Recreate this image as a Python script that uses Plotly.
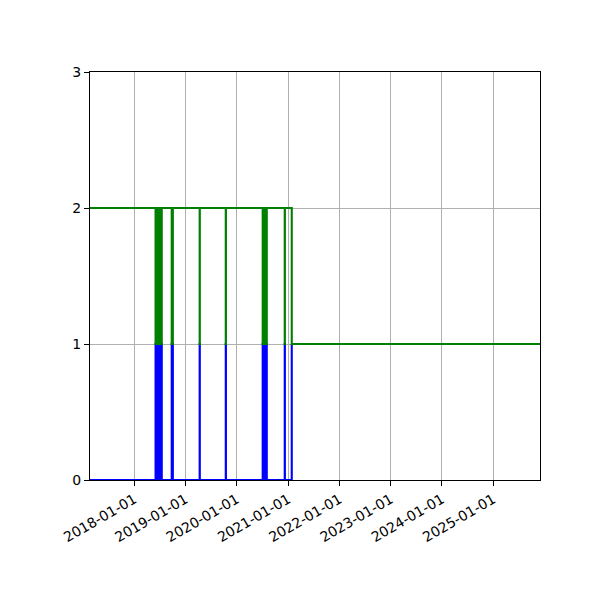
import plotly.graph_objects as go

# 状態の切り替わり日（ステップ表示）
dates = [
    "2017-02-20",
    "2018-06-02", "2018-06-03",
    "2018-06-18", "2018-06-22", "2018-06-26", "2018-06-30",
    "2018-07-04", "2018-07-08", "2018-07-12", "2018-07-16",
    "2018-09-25", "2018-09-28", "2018-10-01", "2018-10-03",
    "2019-04-12", "2019-04-13",
    "2019-10-15", "2019-10-16",
    "2020-07-04", "2020-07-08", "2020-07-12", "2020-07-16",
    "2020-07-20", "2020-07-24", "2020-07-28", "2020-08-02",
    "2020-12-08", "2020-12-09",
    "2021-01-27",
]
blue_vals = [0, 1, 0, 1, 0, 1, 0, 1, 0, 1, 0, 1, 0, 1, 0,
             1, 0, 1, 0, 1, 0, 1, 0, 1, 0, 1, 0, 1, 0, 1]
green_dates = dates + ["2025-11-30"]
green_vals = [2, 1, 2, 1, 2, 1, 2, 1, 2, 1, 2, 1, 2, 1, 2,
              1, 2, 1, 2, 1, 2, 1, 2, 1, 2, 1, 2, 1, 2, 1, 1]

tick_years = ["2018-01-01", "2019-01-01", "2020-01-01", "2021-01-01",
              "2022-01-01", "2023-01-01", "2024-01-01", "2025-01-01"]
y_ticks = [0, 1, 2, 3]

fig = go.Figure()

fig.add_trace(go.Scatter(
    x=dates, y=blue_vals, mode="lines", line_shape="hv",
    line=dict(color="#0000ff", width=2.1), showlegend=False,
))
fig.add_trace(go.Scatter(
    x=green_dates, y=green_vals, mode="lines", line_shape="hv",
    line=dict(color="#008000", width=2.1), showlegend=False,
))

axis_style = dict(
    showline=True, linecolor="black", linewidth=1, mirror=True,
    ticks="outside", ticklen=5, tickcolor="black", tickwidth=1,
    showgrid=True, gridcolor="#b0b0b0", gridwidth=1,
    zeroline=False,
)

# ページ余白(8px)を考慮した余白
fig.update_layout(
    width=600, height=600,
    margin=dict(l=82, r=68, t=64, b=128),
    paper_bgcolor="white", plot_bgcolor="white",
    font=dict(family="DejaVu Sans", size=14, color="black"),
)
fig.update_xaxes(
    type="date", range=["2017-02-20", "2025-11-30"],
    tickvals=tick_years, ticktext=tick_years, tickangle=-30,
    layer="below traces",
    **axis_style,
)
fig.update_yaxes(
    range=[0, 3], tickvals=y_ticks,
    **axis_style,
)

fig.write_html("out.html")
